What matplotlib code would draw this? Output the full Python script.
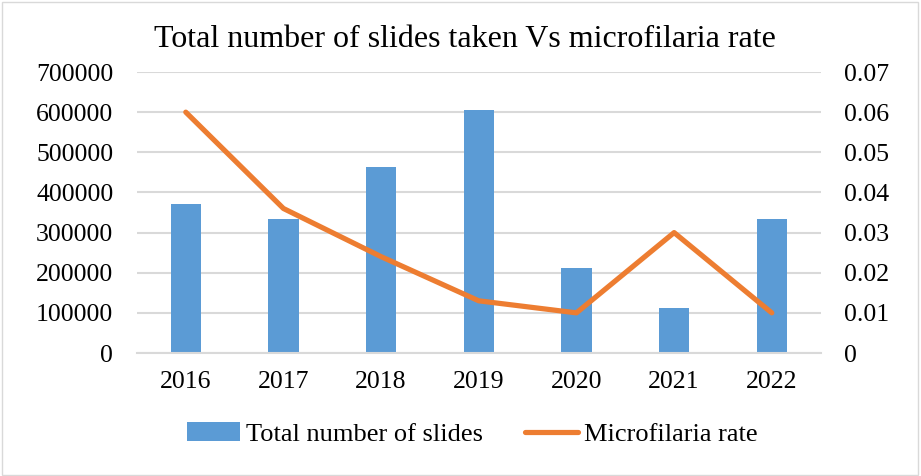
import numpy as np
import matplotlib.pyplot as plt
from matplotlib.patches import Rectangle

years = ['2016', '2017', '2018', '2019', '2020', '2021', '2022']
slides = [371000, 335000, 463000, 606000, 211000, 111000, 335000]
mf_rate = [0.060, 0.036, 0.024, 0.013, 0.010, 0.030, 0.010]

plt.rcParams['font.family'] = ['Liberation Serif', 'DejaVu Serif']

fig = plt.figure(figsize=(9.21, 4.76), dpi=100)
ax = fig.add_axes([0.1487, 0.2584, 0.7423, 0.5903])
ax2 = ax.twinx()

x = np.arange(len(years))
bars = ax.bar(x, slides, width=0.31, color='#5b9bd5', zorder=2, label='Total number of slides')
line, = ax2.plot(x, mf_rate, color='#ed7d31', lw=3.75, solid_capstyle='round', zorder=3,
                 label='Microfilaria rate')

ax.set_xlim(-0.5, len(years) - 0.5)
ax.set_ylim(0, 700000)
ax.set_yticks(np.arange(0, 700001, 100000))
ax.set_yticklabels([str(v) for v in range(0, 700001, 100000)])
ax2.set_ylim(0, 0.07)
ax2.set_yticks(np.arange(0, 0.0701, 0.01))
ax2.set_yticklabels(['0', '0.01', '0.02', '0.03', '0.04', '0.05', '0.06', '0.07'])
ax.set_xticks(x)
ax.set_xticklabels(years)

ax.grid(axis='y', color='#d9d9d9', lw=1.5, zorder=0)
ax.set_axisbelow(True)
for a in (ax, ax2):
    for s in a.spines.values():
        s.set_visible(False)
    a.tick_params(length=0, labelsize=18.5, colors='black')
ax.tick_params(axis='y', pad=17)
ax.tick_params(axis='x', pad=13)
ax2.tick_params(axis='y', pad=16.5)
ax.spines['bottom'].set_visible(True)
ax.spines['bottom'].set_color('#d9d9d9')
ax.spines['bottom'].set_linewidth(1.5)

fig.text(0.505, 0.916, 'Total number of slides taken Vs microfilaria rate', ha='center', va='center',
         fontsize=23)

fig.legend(handles=[bars, line], loc='center', bbox_to_anchor=(0.5125, 0.088), ncol=2, frameon=False,
           fontsize=19, handlelength=2.0, handletextpad=0.23, columnspacing=1.6)

fig.patches.append(Rectangle((0.002, 0.003), 0.995, 0.993, transform=fig.transFigure,
                             fill=False, edgecolor='#d9d9d9', lw=1))

fig.savefig('out.png', dpi=100)
